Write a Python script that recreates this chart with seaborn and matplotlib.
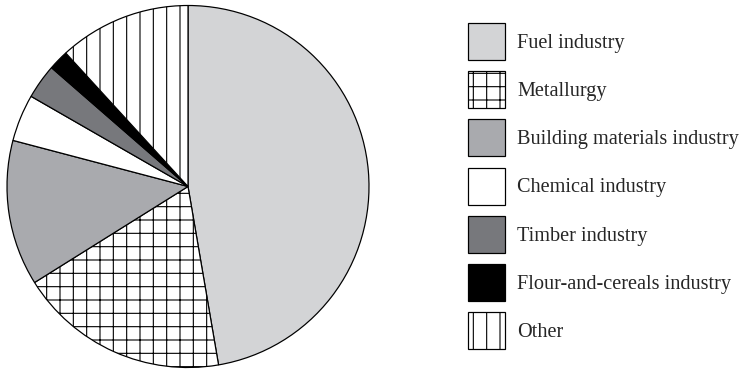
import matplotlib
matplotlib.use("Agg")
import matplotlib.pyplot as plt
import seaborn as sns

# Shares of industrial output by sector, %
sectors = [
    "Fuel industry",
    "Metallurgy",
    "Building materials industry",
    "Chemical industry",
    "Timber industry",
    "Flour-and-cereals industry",
    "Other",
]
shares = [47.3, 18.8, 13.0, 4.2, 3.1, 1.8, 11.8]

fills = ["#d3d4d6", "#ffffff", "#a9aaae", "#ffffff", "#77787c", "#000000", "#ffffff"]
hatches = ["", "+", "", "", "", "", "|"]

sns.set_theme(style="white")
plt.rcParams["font.family"] = ["Liberation Serif", "DejaVu Serif"]
plt.rcParams["hatch.linewidth"] = 1.0
plt.rcParams["hatch.color"] = "black"

DPI = 80
W, H = 740, 369
fig = plt.figure(figsize=(W / DPI, H / DPI), dpi=DPI)
fig.patch.set_facecolor("white")

# Pie axes: centre at (188, 186.5) px, radius 181 px
cx, cy, r = 188, 186.5, 181
ax = fig.add_axes([(cx - r) / W, (H - cy - r) / H, 2 * r / W, 2 * r / H])
wedges, _ = ax.pie(
    shares,
    colors=fills,
    startangle=90,
    counterclock=False,
    radius=1.0,
    wedgeprops=dict(edgecolor="black", linewidth=1.1),
)
for w, h in zip(wedges, hatches):
    if h:
        w.set_hatch(h)
ax.set_xlim(-1, 1)
ax.set_ylim(-1, 1)
ax.set_aspect("equal")
ax.axis("off")

# Legend: 37 px square swatches, rows 48 px apart
fs_px = 20.3
fs = fs_px * 72 / DPI
box_px = 37
# legend box height = fs*(0.65*h + 0.245)
hh = (box_px / fs_px - 0.245) / 0.65
leg = fig.legend(
    wedges,
    sectors,
    loc="upper left",
    bbox_to_anchor=(468 / W, (H - 23) / H),
    frameon=False,
    fontsize=fs,
    handlelength=box_px / fs_px,
    handleheight=hh,
    handletextpad=12 / fs_px,
    labelspacing=(48.2 - box_px) / fs_px,
    borderpad=0,
    borderaxespad=0,
)
for p in leg.get_patches():
    p.set_linewidth(1.1)

fig.savefig("out.png", dpi=DPI, facecolor="white")
